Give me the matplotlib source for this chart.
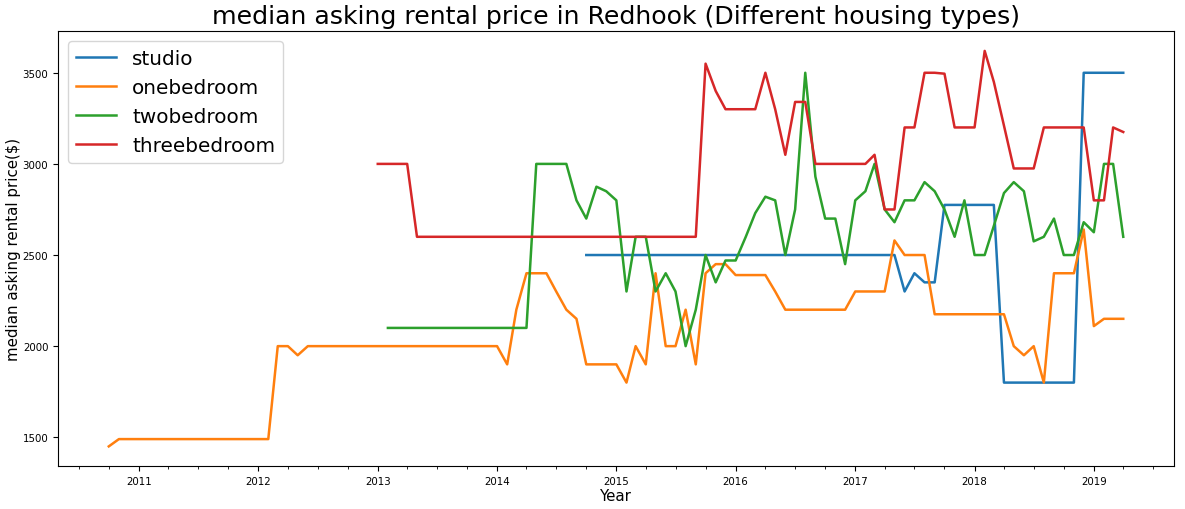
import pandas as pd
import matplotlib
matplotlib.use("Agg")
from matplotlib import pyplot as plt
import matplotlib.dates as mdates

# monthly median asking rent, one list per year, first month given separately
studio_start = "2014-10"
studio = [
    2500, 2500, 2500,
    2500, 2500, 2500, 2500, 2500, 2500, 2500, 2500, 2500, 2500, 2500, 2500,
    2500, 2500, 2500, 2500, 2500, 2500, 2500, 2500, 2500, 2500, 2500, 2500,
    2500, 2500, 2500, 2500, 2500, 2300, 2400, 2350, 2350, 2775, 2775, 2775,
    2775, 2775, 2775, 1800, 1800, 1800, 1800, 1800, 1800, 1800, 1800, 3500,
    3500, 3500, 3500, 3500,
]

onebed_start = "2010-10"
onebed = [
    1450, 1490, 1490,
    1490, 1490, 1490, 1490, 1490, 1490, 1490, 1490, 1490, 1490, 1490, 1490,
    1490, 1490, 2000, 2000, 1950, 2000, 2000, 2000, 2000, 2000, 2000, 2000,
    2000, 2000, 2000, 2000, 2000, 2000, 2000, 2000, 2000, 2000, 2000, 2000,
    2000, 1900, 2200, 2400, 2400, 2400, 2300, 2200, 2150, 1900, 1900, 1900,
    1900, 1800, 2000, 1900, 2400, 2000, 2000, 2200, 1900, 2400, 2450, 2450,
    2390, 2390, 2390, 2390, 2300, 2200, 2200, 2200, 2200, 2200, 2200, 2200,
    2300, 2300, 2300, 2300, 2580, 2500, 2500, 2500, 2175, 2175, 2175, 2175,
    2175, 2175, 2175, 2175, 2000, 1950, 2000, 1800, 2400, 2400, 2400, 2640,
    2110, 2150, 2150, 2150,
]

twobed_start = "2013-02"
twobed = [
    2100, 2100, 2100, 2100, 2100, 2100, 2100, 2100, 2100, 2100, 2100,
    2100, 2100, 2100, 2100, 3000, 3000, 3000, 3000, 2800, 2700, 2875, 2850,
    2800, 2300, 2600, 2600, 2300, 2400, 2300, 2000, 2200, 2500, 2350, 2470,
    2470, 2600, 2730, 2820, 2800, 2500, 2750, 3500, 2930, 2700, 2700, 2450,
    2800, 2850, 3000, 2750, 2680, 2800, 2800, 2900, 2850, 2750, 2600, 2800,
    2500, 2500, 2660, 2840, 2900, 2850, 2575, 2600, 2700, 2500, 2500, 2680,
    2625, 3000, 3000, 2600,
]

threebed_start = "2013-01"
threebed = [
    3000, 3000, 3000, 3000, 2600, 2600, 2600, 2600, 2600, 2600, 2600, 2600,
    2600, 2600, 2600, 2600, 2600, 2600, 2600, 2600, 2600, 2600, 2600, 2600,
    2600, 2600, 2600, 2600, 2600, 2600, 2600, 2600, 2600, 3550, 3400, 3300,
    3300, 3300, 3300, 3500, 3300, 3050, 3340, 3340, 3000, 3000, 3000, 3000,
    3000, 3000, 3050, 2750, 2750, 3200, 3200, 3500, 3500, 3495, 3200, 3200,
    3200, 3620, 3450, 3210, 2975, 2975, 2975, 3200, 3200, 3200, 3200, 3200,
    2800, 2800, 3200, 3175,
]

series = [
    ("studio", studio_start, studio),
    ("onebedroom", onebed_start, onebed),
    ("twobedroom", twobed_start, twobed),
    ("threebedroom", threebed_start, threebed),
]
colors = ["#1f77b4", "#ff7f0e", "#2ca02c", "#d62728"]

fig = plt.figure(figsize=(11.85, 5.1), dpi=100)
ax = fig.add_axes([0.049, 0.084, 0.9417, 0.853])

for (name, start, values), c in zip(series, colors):
    dates = pd.date_range(start, periods=len(values), freq="MS")
    ax.plot(dates, values, color=c, linewidth=1.8, label=name)

ax.xaxis.set_major_locator(mdates.YearLocator())
ax.xaxis.set_major_formatter(mdates.DateFormatter("%Y"))
ax.xaxis.set_minor_locator(mdates.MonthLocator(bymonth=[1, 4, 7, 10]))
ax.set_yticks([1500, 2000, 2500, 3000, 3500])
ax.tick_params(labelsize=7.4)

ax.set_title("median asking rental price in Redhook (Different housing types)",
             fontsize=18.2)
ax.set_xlabel("Year", fontsize=10.8, labelpad=1.5)
ax.set_ylabel("median asking rental price($)", fontsize=10.8, labelpad=1)
ax.legend(loc="upper left", fontsize=14.4)

fig.savefig("out.png", dpi=100)
